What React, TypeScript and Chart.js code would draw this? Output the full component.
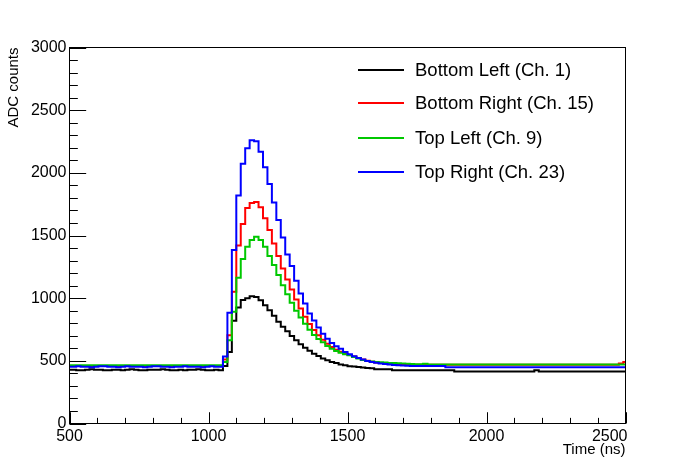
import { useEffect, useRef } from "react";
import { Chart, registerables } from "chart.js";

Chart.register(...registerables);

// Histogram binning: 16 ns bins, first bin starts at 492 ns (axis shows 500-2500)
const binStart = 492;
const binWidth = 16;

const xTickLabels = [500, 1000, 1500, 2000, 2500];
const yTickLabels = [0, 500, 1000, 1500, 2000, 2500, 3000];
const xMinorStep = 100;
const yMinorStep = 100;

const seriesLabels = [
  "Bottom Left (Ch. 1)",
  "Bottom Right (Ch. 15)",
  "Top Left (Ch. 9)",
  "Top Right (Ch. 23)",
];
const seriesColors = ["#000000", "#ff0000", "#00c800", "#0000ff"];

const bottomLeft = [
  428, 428, 424, 424, 428, 432, 428, 428, 424, 424, 428, 428, 424, 428, 432, 428, 424, 424, 428, 428,
  428, 432, 428, 424, 424, 428, 424, 428, 428, 432, 428, 424, 424, 428, 424,
  458, 571, 820, 925, 985, 1000, 1016, 1010, 984, 944, 904, 859, 811, 771, 736, 699, 664, 632, 605, 581,
  557, 539, 519, 504, 491, 482, 470, 464, 457, 455, 451, 446, 442, 440,
  432, 432, 432, 432,
  424, 424, 424, 424, 424, 424, 424, 424, 424, 424, 424, 424, 424, 424,
  414, 414, 414, 414, 414, 414, 414, 414, 414, 414, 414, 414, 414, 414, 414, 414, 414, 414, 424, 414,
  414, 414, 414, 414, 414, 414, 414, 414, 414, 414, 414, 414, 414, 414, 414, 414, 414, 414, 414,
];

const bottomRight = [
  458, 458, 458, 458, 458, 458, 458, 458, 458, 458, 458, 458, 458, 458, 458, 458, 458, 458, 458, 458,
  458, 458, 458, 458, 458, 458, 458, 458, 458, 458, 458, 458, 458, 458, 458,
  510, 704, 1051, 1420, 1592, 1720, 1760, 1768, 1725, 1637, 1544, 1437, 1336, 1237, 1149, 1069, 989, 917, 851, 793,
  746, 704, 669, 637, 611, 589, 573, 558, 546, 534, 522, 511, 501, 493, 487, 482, 478, 475, 472,
  469, 469, 469, 469, 469, 469, 469, 469, 469, 469, 469, 469, 469, 469, 469, 469, 469, 469, 469, 469,
  469, 469, 469, 469, 469, 469, 469, 469, 469, 469, 469, 469, 469, 469, 469, 469, 469, 469, 469, 469,
  469, 469, 469, 469, 469, 469, 469, 469, 469, 469,
  478, 490,
];

const topLeft = [
  464, 464, 464, 464, 464, 464, 464, 464, 464, 464, 464, 464, 464, 464, 464, 464, 464, 464, 464, 464,
  464, 464, 464, 464, 464, 464, 464, 464, 464, 464, 464, 464, 464, 464, 464,
  490, 664, 891, 1163, 1312, 1410, 1464, 1491, 1464, 1411, 1336, 1264, 1184, 1104, 1032, 963, 899, 845, 795, 749,
  707, 675, 648, 619, 597, 579, 565, 552, 544, 531, 518, 506, 498, 494, 491, 489, 487, 483, 482, 480,
  478, 477, 474, 472, 472, 476,
  470, 470, 470, 470, 470, 470, 470, 470, 470, 470, 470, 470, 470, 470, 470, 470, 470, 470, 470, 470,
  470, 470, 470, 470, 470, 470, 470, 470, 470, 470, 470, 470, 470, 470, 470, 470, 470, 470, 470, 470,
  470, 470, 470, 470, 470,
];

const topRight = [
  452, 452, 456, 452, 452, 448, 452, 456, 456, 452, 452, 448, 452, 456, 452, 452, 452, 448, 452, 456,
  456, 452, 452, 448, 452, 452, 456, 452, 452, 452, 448, 452, 456, 452, 452,
  535, 883, 1384, 1819, 2072, 2197, 2259, 2251, 2168, 2045, 1910, 1763, 1624, 1484, 1349, 1256, 1139, 1037, 957, 877,
  822, 765, 717, 677, 643, 616, 597, 571, 552, 536, 522, 510, 499, 490, 484, 478, 474, 470, 467, 464,
  462, 460,
  458, 458, 458, 458, 458, 458, 458, 458,
  448, 448, 448, 448, 448, 448, 448, 448, 448, 448, 448, 448, 448, 448, 448, 448, 448, 448, 448, 448,
  448, 448, 448, 448, 448, 448, 448, 448, 448, 448, 448, 448, 448, 448, 448, 448, 448, 448, 448, 448,
  448,
];

const seriesValues = [bottomLeft, bottomRight, topLeft, topRight];

const xTitle = "Time (ns)";
const yTitle = "ADC counts";

const FONT = "'Liberation Sans', Arial, Helvetica, sans-serif";

function histPoints(values: number[]) {
  const pts: { x: number; y: number }[] = [];
  values.forEach((v, i) => {
    const left = binStart + i * binWidth;
    pts.push({ x: left, y: v });
    pts.push({ x: left + binWidth, y: v });
  });
  return pts;
}

const rootPlugin = {
  id: "rootFrame",
  afterDraw(chart: any) {
    const ctx = chart.ctx as CanvasRenderingContext2D;
    const area = chart.chartArea;
    const xs = chart.scales.x;
    const ys = chart.scales.y;
    ctx.save();
    ctx.strokeStyle = "#000";
    ctx.lineWidth = 1;
    ctx.strokeRect(area.left, area.top, area.right - area.left, area.bottom - area.top);

    const plotW = area.right - area.left;
    const plotH = area.bottom - area.top;
    const yMajLen = 0.03 * plotW;
    const xMajLen = 0.03 * plotH;

    ctx.beginPath();
    for (let v = xs.min; v <= xs.max + 0.001; v += xMinorStep) {
      const px = Math.round(xs.getPixelForValue(v)) + 0.5;
      const major = xTickLabels.includes(Math.round(v));
      const len = major ? xMajLen : xMajLen / 2;
      ctx.moveTo(px, area.bottom);
      ctx.lineTo(px, area.bottom - len);
    }
    for (let v = ys.min; v <= ys.max + 0.001; v += yMinorStep) {
      const py = Math.round(ys.getPixelForValue(v)) + 0.5;
      const major = yTickLabels.includes(Math.round(v));
      const len = major ? yMajLen : yMajLen / 2;
      ctx.moveTo(area.left, py);
      ctx.lineTo(area.left + len, py);
    }
    ctx.stroke();

    // x tick labels (last one kept inside the frame, as ROOT does)
    ctx.fillStyle = "#000";
    ctx.font = `16px ${FONT}`;
    ctx.textBaseline = "middle";
    xTickLabels.forEach((v) => {
      const px = xs.getPixelForValue(v);
      const txt = String(v);
      const w = ctx.measureText(txt).width;
      if (px + w / 2 > area.right + 4) {
        ctx.textAlign = "right";
        ctx.fillText(txt, area.right + 2, 437);
      } else {
        ctx.textAlign = "center";
        ctx.fillText(txt, px, 437);
      }
    });

    ctx.font = `15px ${FONT}`;
    ctx.textAlign = "right";
    ctx.textBaseline = "middle";
    ctx.fillText(xTitle, area.right, 450);
    ctx.save();
    ctx.translate(14, area.top);
    ctx.rotate(-Math.PI / 2);
    ctx.fillText(yTitle, 0, 0);
    ctx.restore();

    const legendY = [70, 103, 138, 172];
    ctx.font = `18.5px ${FONT}`;
    ctx.textAlign = "left";
    seriesLabels.forEach((label, i) => {
      ctx.strokeStyle = seriesColors[i];
      ctx.lineWidth = 2;
      ctx.beginPath();
      ctx.moveTo(358, legendY[i]);
      ctx.lineTo(404, legendY[i]);
      ctx.stroke();
      ctx.fillStyle = "#000";
      ctx.fillText(label, 415, legendY[i] + 1);
    });
    ctx.restore();
  },
};

export default function App() {
  const canvasRef = useRef<HTMLCanvasElement | null>(null);

  useEffect(() => {
    if (!canvasRef.current) return;
    const datasets = seriesValues.map((vals, i) => ({
      label: seriesLabels[i],
      data: histPoints(vals),
      borderColor: seriesColors[i],
      backgroundColor: seriesColors[i],
      borderWidth: 2,
      pointRadius: 0,
      tension: 0,
      fill: false,
      order: seriesValues.length - 1 - i,
    }));
    const chart = new Chart(canvasRef.current, {
      type: "line",
      data: { datasets },
      options: {
        animation: false,
        responsive: true,
        maintainAspectRatio: false,
        layout: { padding: { top: 47.5, right: 70.5, left: 0, bottom: 0 } },
        plugins: { legend: { display: false }, tooltip: { enabled: false } },
        events: [],
        scales: {
          x: {
            type: "linear",
            min: 500,
            max: 2500,
            afterFit: (s: any) => {
              s.height = 48.5;
            },
            afterBuildTicks: (s: any) => {
              s.ticks = xTickLabels.map((v) => ({ value: v }));
            },
            grid: { display: false, drawTicks: false },
            border: { display: false },
            ticks: { display: false },
          },
          y: {
            type: "linear",
            min: 0,
            max: 3000,
            afterFit: (s: any) => {
              s.width = 69.5;
            },
            afterBuildTicks: (s: any) => {
              s.ticks = yTickLabels.map((v) => ({ value: v }));
            },
            grid: { display: false, drawTicks: false },
            border: { display: false },
            ticks: {
              padding: 3,
              autoSkip: false,
              color: "#000",
              font: { family: FONT, size: 16 },
              callback: (v: any) => String(v),
            },
          },
        },
      },
      plugins: [rootPlugin],
    });
    return () => chart.destroy();
  }, []);

  return (
    <div style={{ position: "absolute", left: 0, top: 0, width: 696, height: 472, background: "#fff" }}>
      <canvas ref={canvasRef} />
    </div>
  );
}
